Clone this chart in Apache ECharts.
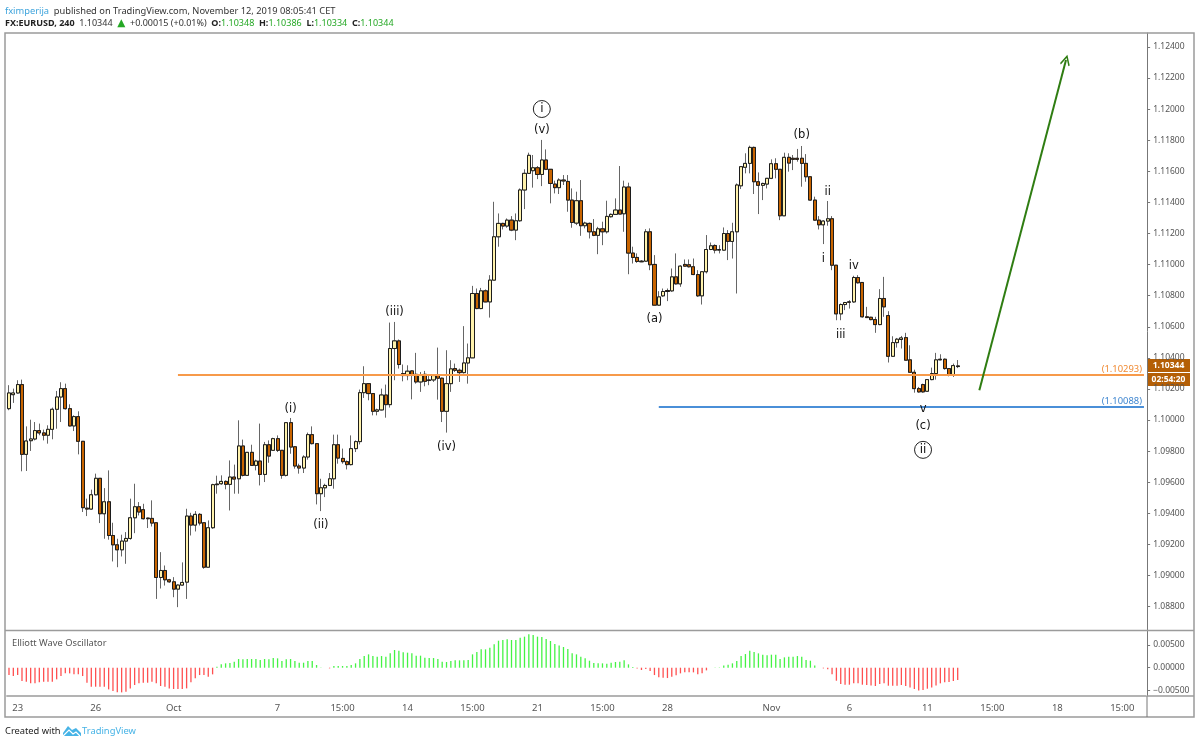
<!DOCTYPE html>
<html>
<head>
<meta charset="utf-8">
<title>FX:EURUSD, 240</title>
<script src="https://cdn.jsdelivr.net/npm/echarts@6/dist/echarts.min.js"></script>
<style>
  html, body { margin: 0; padding: 0; background: #fff; }
  #chart { width: 1200px; height: 745px; }
</style>
</head>
<body>
<div id="chart"></div>
<script>
// 4h candles
var opens = [
  1.10073,1.10163,1.10174,1.10228,1.09779,1.09867,1.09878,1.09932,1.09917,1.09902,
  1.09940,1.10069,1.10148,1.10202,1.10073,1.09962,1.10022,1.09863,1.09433,1.09427,
  1.09519,1.09625,1.09397,1.09474,1.09257,1.09197,1.09165,1.09221,1.09238,1.09371,
  1.09442,1.09423,1.09369,1.09367,1.09339,1.08987,1.09032,1.08972,1.08959,1.08912,
  1.08938,1.08957,1.09382,1.09324,1.09393,1.09339,1.09053,1.09307,1.09588,1.09590,
  1.09605,1.09586,1.09633,1.09622,1.09833,1.09644,1.09792,1.09708,1.09736,1.09650,
  1.09841,1.09805,1.09880,1.09805,1.09644,1.09983,1.09828,1.09704,1.09691,1.09762,
  1.09906,1.09848,1.09526,1.09564,1.09579,1.09622,1.09841,1.09753,1.09732,1.09713,
  1.09816,1.09861,1.10176,1.10234,1.10170,1.10056,1.10065,1.10161,1.10099,1.10460,
  1.10509,1.10299,1.10286,1.10316,1.10294,1.10245,1.10294,1.10258,1.10258,1.10286,
  1.10269,1.10056,1.10234,1.10331,1.10320,1.10305,1.10367,1.10400,1.10814,1.10717,
  1.10831,1.10760,1.10900,1.11179,1.11265,1.11248,1.11286,1.11222,1.11282,1.11480,
  1.11587,1.11604,1.11623,1.11580,1.11673,1.11613,1.11518,1.11495,1.11544,1.11535,
  1.11415,1.11267,1.11411,1.11250,1.11265,1.11211,1.11188,1.11230,1.11211,1.11308,
  1.11323,1.11351,1.11327,1.11499,1.11074,1.11046,1.11022,1.11022,1.11211,1.11001,
  1.10739,1.10799,1.10833,1.10831,1.10921,1.10876,1.11001,1.10999,1.10986,1.10936,
  1.10799,1.10954,1.11097,1.11123,1.11093,1.11093,1.11200,1.11149,1.11211,1.11507,
  1.11626,1.11651,1.11754,1.11533,1.11510,1.11518,1.11555,1.11649,1.11613,1.11314,
  1.11690,1.11684,1.11684,1.11684,1.11651,1.11565,1.11415,1.11286,1.11256,1.11280,
  1.11295,1.10996,1.10683,1.10743,1.10760,1.10760,1.10917,1.10885,1.10664,1.10661,
  1.10646,1.10614,1.10782,1.10672,1.10410,1.10498,1.10518,1.10530,1.10387,1.10307,
  1.10202,1.10228,1.10185,1.10260,1.10299,1.10391,1.10391,1.10331,1.10288,1.10348
];
// same order as opens
var closes = [
  1.10174,1.10174,1.10228,1.09779,1.09865,1.09878,1.09932,1.09917,1.09902,1.09940,
  1.10069,1.10148,1.10202,1.10073,1.09962,1.10022,1.09863,1.09436,1.09427,1.09519,
  1.09625,1.09397,1.09474,1.09257,1.09197,1.09165,1.09221,1.09238,1.09371,1.09442,
  1.09408,1.09365,1.09365,1.09337,1.08987,1.09032,1.08972,1.08959,1.08912,1.08938,
  1.08955,1.09382,1.09324,1.09393,1.09337,1.09053,1.09307,1.09584,1.09584,1.09605,
  1.09586,1.09633,1.09620,1.09833,1.09644,1.09792,1.09708,1.09736,1.09650,1.09841,
  1.09768,1.09880,1.09805,1.09644,1.09983,1.09826,1.09704,1.09691,1.09762,1.09906,
  1.09848,1.09526,1.09564,1.09579,1.09622,1.09841,1.09755,1.09732,1.09713,1.09816,
  1.09861,1.10176,1.10234,1.10170,1.10056,1.10065,1.10161,1.10099,1.10460,1.10509,
  1.10357,1.10286,1.10314,1.10288,1.10245,1.10292,1.10249,1.10254,1.10286,1.10269,
  1.10056,1.10234,1.10329,1.10320,1.10305,1.10367,1.10400,1.10814,1.10717,1.10831,
  1.10760,1.10900,1.11179,1.11265,1.11248,1.11286,1.11222,1.11282,1.11480,1.11587,
  1.11703,1.11623,1.11580,1.11673,1.11613,1.11522,1.11495,1.11544,1.11538,1.11415,
  1.11271,1.11411,1.11250,1.11267,1.11211,1.11188,1.11230,1.11211,1.11310,1.11323,
  1.11351,1.11325,1.11499,1.11074,1.11046,1.11020,1.11018,1.11211,1.10999,1.10739,
  1.10792,1.10827,1.10827,1.10921,1.10876,1.10990,1.10990,1.10986,1.10936,1.10799,
  1.10954,1.11097,1.11121,1.11093,1.11097,1.11200,1.11149,1.11211,1.11512,1.11630,
  1.11651,1.11754,1.11533,1.11510,1.11522,1.11555,1.11649,1.11613,1.11314,1.11690,
  1.11653,1.11677,1.11677,1.11651,1.11565,1.11415,1.11286,1.11256,1.11280,1.11295,
  1.10996,1.10683,1.10743,1.10756,1.10758,1.10917,1.10883,1.10664,1.10659,1.10646,
  1.10614,1.10782,1.10728,1.10410,1.10498,1.10520,1.10528,1.10385,1.10307,1.10202,
  1.10181,1.10181,1.10260,1.10299,1.10387,1.10387,1.10331,1.10288,1.10350,1.10344
];
var lows = [
  1.10063,1.10110,1.10170,1.09670,1.09672,1.09801,1.09869,1.09902,1.09869,1.09848,
  1.09876,1.09944,1.09987,1.10067,1.09959,1.09929,1.09779,1.09408,1.09382,1.09423,
  1.09515,1.09337,1.09236,1.09230,1.09090,1.09053,1.09122,1.09075,1.09230,1.09272,
  1.09386,1.09360,1.09305,1.09315,1.08849,1.08916,1.08935,1.08953,1.08860,1.08796,
  1.08935,1.08849,1.09257,1.09283,1.09322,1.09043,1.09053,1.09300,1.09526,1.09584,
  1.09554,1.09418,1.09526,1.09526,1.09637,1.09640,1.09708,1.09676,1.09579,1.09601,
  1.09725,1.09805,1.09794,1.09622,1.09637,1.09783,1.09687,1.09655,1.09659,1.09745,
  1.09843,1.09457,1.09414,1.09504,1.09575,1.09558,1.09719,1.09719,1.09682,1.09708,
  1.09794,1.09843,1.10142,1.10127,1.10030,1.10030,1.10062,1.10015,1.10080,1.10256,
  1.10331,1.10249,1.10256,1.10133,1.10234,1.10181,1.10217,1.10224,1.10245,1.10131,
  1.09987,1.09919,1.10181,1.10309,1.10245,1.10299,1.10234,1.10400,1.10713,1.10713,
  1.10758,1.10659,1.10900,1.11115,1.11226,1.11237,1.11215,1.11157,1.11276,1.11357,
  1.11587,1.11495,1.11550,1.11505,1.11608,1.11394,1.11458,1.11454,1.11512,1.11340,
  1.11237,1.11254,1.11185,1.11233,1.11168,1.11183,1.11067,1.11125,1.11200,1.11303,
  1.11319,1.11325,1.11211,1.10938,1.11007,1.11011,1.11016,1.11018,1.10964,1.10739,
  1.10734,1.10792,1.10765,1.10825,1.10872,1.10857,1.10986,1.10981,1.10932,1.10792,
  1.10743,1.10943,1.11093,1.11072,1.11072,1.11089,1.11029,1.11039,1.10814,1.11486,
  1.11587,1.11587,1.11454,1.11325,1.11415,1.11490,1.11550,1.11555,1.11286,1.11314,
  1.11598,1.11608,1.11662,1.11501,1.11533,1.11411,1.11282,1.11226,1.11132,1.11250,
  1.10964,1.10642,1.10642,1.10707,1.10717,1.10754,1.10878,1.10659,1.10657,1.10642,
  1.10561,1.10610,1.10664,1.10370,1.10406,1.10466,1.10460,1.10385,1.10307,1.10176,
  1.10176,1.10176,1.10181,1.10256,1.10260,1.10385,1.10324,1.10281,1.10277,1.10334
];
var highs = [
  1.10224,1.10202,1.10256,1.10260,1.09959,1.10002,1.09987,1.09977,1.09938,1.09966,
  1.10080,1.10187,1.10243,1.10234,1.10101,1.10030,1.10056,1.09863,1.09494,1.09552,
  1.09655,1.09625,1.09562,1.09676,1.09339,1.09236,1.09262,1.09279,1.09494,1.09590,
  1.09472,1.09461,1.09371,1.09483,1.09339,1.09150,1.09064,1.08978,1.08989,1.08942,
  1.09084,1.09429,1.09403,1.09414,1.09401,1.09339,1.09354,1.09590,1.09642,1.09644,
  1.09612,1.09740,1.09713,1.09998,1.09874,1.09792,1.09841,1.09745,1.09977,1.09859,
  1.09869,1.09886,1.09901,1.09805,1.09983,1.10013,1.09833,1.09719,1.09773,1.09919,
  1.09959,1.09848,1.09622,1.09590,1.09659,1.09906,1.09906,1.09816,1.09740,1.09901,
  1.09869,1.10196,1.10346,1.10234,1.10170,1.10073,1.10202,1.10228,1.10627,1.10631,
  1.10518,1.10357,1.10352,1.10320,1.10432,1.10309,1.10316,1.10288,1.10294,1.10466,
  1.10273,1.10449,1.10385,1.10363,1.10331,1.10604,1.10492,1.10863,1.10846,1.10850,
  1.10840,1.10932,1.11404,1.11329,1.11269,1.11297,1.11312,1.11329,1.11490,1.11613,
  1.11720,1.11705,1.11634,1.11802,1.11741,1.11613,1.11540,1.11555,1.11576,1.11576,
  1.11490,1.11469,1.11544,1.11276,1.11271,1.11293,1.11243,1.11276,1.11411,1.11329,
  1.11426,1.11634,1.11540,1.11527,1.11115,1.11072,1.11029,1.11228,1.11233,1.11061,
  1.10829,1.10846,1.10846,1.10975,1.11072,1.10996,1.11033,1.11033,1.11039,1.10964,
  1.10954,1.11190,1.11142,1.11130,1.11125,1.11239,1.11222,1.11269,1.11522,1.11630,
  1.11716,1.11765,1.11759,1.11593,1.11527,1.11555,1.11677,1.11684,1.11613,1.11720,
  1.11716,1.11705,1.11744,1.11763,1.11711,1.11565,1.11437,1.11312,1.11286,1.11409,
  1.11312,1.10996,1.10750,1.10760,1.10771,1.10928,1.10932,1.10885,1.10728,1.10664,
  1.10664,1.10842,1.10921,1.10700,1.10539,1.10528,1.10541,1.10561,1.10481,1.10324,
  1.10213,1.10234,1.10260,1.10337,1.10432,1.10423,1.10396,1.10331,1.10363,1.10386
];
// Elliott Wave Oscillator histogram
var ewo = [
  -0.00162,-0.00184,-0.00162,-0.00294,-0.00309,-0.00345,-0.00345,-0.00323,-0.00309,-0.00309,
  -0.00309,-0.00257,-0.00184,-0.00125,-0.00125,-0.00147,-0.00147,-0.00184,-0.00331,-0.00419,
  -0.00419,-0.00419,-0.00419,-0.00478,-0.00515,-0.00544,-0.00544,-0.00529,-0.00456,-0.00382,
  -0.00345,-0.00331,-0.00331,-0.00309,-0.00345,-0.00404,-0.00419,-0.00456,-0.00470,-0.00470,
  -0.00470,-0.00456,-0.00323,-0.00235,-0.00162,-0.00162,-0.00198,-0.00147,0.00022,0.00074,
  0.00096,0.00103,0.00132,0.00191,0.00184,0.00191,0.00191,0.00191,0.00169,0.00191,
  0.00184,0.00213,0.00206,0.00147,0.00184,0.00191,0.00147,0.00110,0.00110,0.00147,
  0.00147,0.00059,0.00007,0,-0.00015,0.00037,0.00037,0.00037,0.00037,0.00059,
  0.00096,0.00191,0.00257,0.00294,0.00257,0.00243,0.00257,0.00243,0.00316,0.00390,
  0.00375,0.00338,0.00331,0.00316,0.00265,0.00265,0.00221,0.00213,0.00213,0.00191,
  0.00132,0.00125,0.00147,0.00162,0.00162,0.00162,0.00169,0.00294,0.00345,0.00404,
  0.00404,0.00441,0.00515,0.00595,0.00610,0.00625,0.00610,0.00610,0.00662,0.00684,
  0.00735,0.00720,0.00684,0.00676,0.00632,0.00588,0.00522,0.00492,0.00456,0.00412,
  0.00316,0.00294,0.00243,0.00206,0.00154,0.00103,0.00096,0.00096,0.00088,0.00110,
  0.00125,0.00132,0.00162,0.00074,0.00015,-0.00015,-0.00051,-0.00029,-0.00074,-0.00162,
  -0.00213,-0.00221,-0.00228,-0.00198,-0.00169,-0.00125,-0.00103,-0.00103,-0.00103,-0.00147,
  -0.00125,-0.00059,0,0.00007,0.00007,0.00051,0.00066,0.00096,0.00147,0.00257,
  0.00301,0.00375,0.00345,0.00316,0.00287,0.00272,0.00287,0.00287,0.00191,0.00228,
  0.00243,0.00243,0.00257,0.00243,0.00169,0.00154,0.00051,0,-0.00015,-0.00037,
  -0.00147,-0.00287,-0.00360,-0.00375,-0.00375,-0.00345,-0.00345,-0.00375,-0.00382,-0.00390,
  -0.00404,-0.00360,-0.00345,-0.00397,-0.00397,-0.00397,-0.00382,-0.00404,-0.00434,-0.00470,
  -0.00500,-0.00492,-0.00463,-0.00434,-0.00390,-0.00345,-0.00323,-0.00316,-0.00294,-0.00272
];

// time axis: bar slot -> label, the axis runs on past the last candle
var barSlots = 263;
var timeSlots = [2, 20, 38, 62, 77, 92, 107, 122, 137, 152, 176, 194, 212, 227, 242, 257];
var timeLabels = ['23', '26', 'Oct', '7', '15:00', '14', '15:00', '21', '15:00', '28', 'Nov', '6', '11', '15:00', '18', '15:00'];
var priceTicks = [1.088, 1.09, 1.092, 1.094, 1.096, 1.098, 1.1, 1.102, 1.104, 1.106, 1.108, 1.11, 1.112, 1.114, 1.116, 1.118, 1.12, 1.122, 1.124];
var ewoTicks = [-0.005, 0, 0.005];

// elliott wave counts
var waveText = ['(i)', '(ii)', '(iii)', '(iv)', '(v)', '(a)', '(b)', 'i', 'ii', 'iii', 'iv', 'v', '(c)'];
var waveSlot = [65, 72, 89, 101, 123, 149, 183, 188, 189, 192, 195, 211, 211];
var wavePrice = [1.10082, 1.09335, 1.10706, 1.09837, 1.11875, 1.10661, 1.11846, 1.11048, 1.11479, 1.10558, 1.11003, 1.10082, 1.09969];
var circleText = ['i', 'ii'];
var circleSlot = [123, 211];
var circlePrice = [1.12001, 1.09808];

var supportLevels = [1.10293, 1.10088];
var lastPrice = 1.10344;
var arrowFrom = [224, 1.10191];
var arrowTo = [244, 1.12316];

var categories = [];
for (var i = 0; i < barSlots; i++) {
  var at = timeSlots.indexOf(i);
  categories.push(at >= 0 ? timeLabels[at] : '');
}
var wicks = [], bodies = [];
for (var j = 0; j < opens.length; j++) {
  wicks.push([opens[j], closes[j], lows[j], highs[j]]);
  bodies.push([opens[j], closes[j], Math.min(opens[j], closes[j]), Math.max(opens[j], closes[j])]);
}
var waves = waveText.map(function (t, n) {
  return { value: [waveSlot[n], wavePrice[n]], name: t };
});
var circles = circleText.map(function (t, n) {
  return { value: [circleSlot[n], circlePrice[n]], name: t };
});

var font = '"Noto Sans", "Open Sans", sans-serif';
var grey = '#9b9b9b';
var isLabelSlot = function (n) { return timeSlots.indexOf(n) >= 0; };

var myChart = echarts.init(document.getElementById('chart'), null, { renderer: 'canvas' });
var option = {
  animation: false,
  backgroundColor: '#fff',
  textStyle: { fontFamily: font },
  title: [{
    left: 5, top: 2, padding: 0,
    text: '{n|fximperija} {p|published on TradingView.com, November 12, 2019 08:05:41 CET}',
    textStyle: {
      fontWeight: 'normal',
      rich: {
        n: { fontFamily: font, fontSize: 9.3, fontWeight: 'normal', color: '#3ca3dc' },
        p: { fontFamily: font, fontSize: 9.3, fontWeight: 'normal', color: '#333' }
      }
    }
  }, {
    left: 5, top: 14, padding: 0,
    text: '{b|FX:EURUSD, 240} {t|1.10344} {u|\u25B2} {t|+0.00015 (+0.01%)} {b|O:}{g|1.10348} {b|H:}{g|1.10386} {b|L:}{g|1.10334} {b|C:}{g|1.10344}',
    textStyle: {
      fontWeight: 'normal',
      rich: {
        b: { fontFamily: font, fontSize: 9, fontWeight: 'bold', color: '#222' },
        t: { fontFamily: font, fontSize: 9, fontWeight: 'normal', color: '#333' },
        g: { fontFamily: font, fontSize: 9, fontWeight: 'normal', color: '#25a825' },
        u: { fontFamily: 'DejaVu Sans', fontSize: 10.5, fontWeight: 'normal', color: '#25a825' }
      }
    }
  }],
  grid: [
    { left: 6.83, top: 33, width: 1139.3, height: 597 },
    { left: 6.83, top: 631, width: 1139.3, height: 65 }
  ],
  xAxis: [{
    type: 'category', gridIndex: 0, data: categories, boundaryGap: true,
    axisLine: { show: false }, axisTick: { show: false }, axisLabel: { show: false }, splitLine: { show: false }
  }, {
    type: 'category', gridIndex: 1, data: categories, boundaryGap: true,
    axisLine: { onZero: false, lineStyle: { color: grey, width: 1.5 } },
    axisTick: { alignWithLabel: true, interval: isLabelSlot, length: 3, lineStyle: { color: '#777' } },
    axisLabel: {
      interval: function (n) { return isLabelSlot(n); },
      color: '#555', fontSize: 9.5, margin: 7, fontFamily: font
    },
    splitLine: { show: false }
  }],
  yAxis: [{
    type: 'value', gridIndex: 0, position: 'right', offset: 1,
    min: 1.08649, max: 1.1249, scale: true,
    axisLine: { show: true, lineStyle: { color: '#777', width: 1 } },
    axisTick: { show: true, length: 3, customValues: priceTicks, lineStyle: { color: '#777' } },
    axisLabel: {
      customValues: priceTicks, color: '#555', fontSize: 8.5, margin: 6, fontFamily: font,
      formatter: function (v) { return v.toFixed(5); }
    },
    splitLine: { show: false }
  }, {
    type: 'value', gridIndex: 1, position: 'right', offset: 1,
    min: -0.00624, max: 0.00809, scale: true,
    axisLine: { show: true, lineStyle: { color: '#777', width: 1 } },
    axisTick: { show: true, length: 3, customValues: ewoTicks, lineStyle: { color: '#777' } },
    axisLabel: {
      customValues: ewoTicks, color: '#555', fontSize: 8.5, margin: 6, fontFamily: font,
      formatter: function (v) { return (v < 0 ? '\u2212' : '') + Math.abs(v).toFixed(5); }
    },
    splitLine: { show: false }
  }],
  series: [{
    // wicks in grey, bodies go on top in a second pass
    type: 'candlestick', name: 'wicks', xAxisIndex: 0, yAxisIndex: 0, data: wicks,
    barWidth: 3.6, silent: true,
    itemStyle: { color: '#fff2ac', color0: '#c86400', borderColor: '#666', borderColor0: '#666', borderWidth: 1 },
    markLine: {
      silent: true, symbol: 'none', animation: false,
      lineStyle: { type: 'solid' },
      data: [
        [{ coord: [39, supportLevels[0]], lineStyle: { color: '#f79a4a', width: 2, type: 'solid' },
           label: { show: true, position: 'insideEndTop', formatter: '(1.10293)', color: '#f08a33', fontSize: 9.4, distance: [2, 1] } },
         { coord: [barSlots - 1, supportLevels[0]] }],
        [{ coord: [150, supportLevels[1]], lineStyle: { color: '#4a8fd8', width: 2, type: 'solid' },
           label: { show: true, position: 'insideEndTop', formatter: '(1.10088)', color: '#3f86d0', fontSize: 9.4, distance: [2, 1] } },
         { coord: [barSlots - 1, supportLevels[1]] }]
      ]
    }
  }, {
    type: 'candlestick', name: 'bodies', xAxisIndex: 0, yAxisIndex: 0, data: bodies,
    barWidth: 3.6, silent: true, z: 3,
    itemStyle: { color: '#fff2ac', color0: '#c86400', borderColor: '#1c1c1c', borderColor0: '#1c1c1c', borderWidth: 1 }
  }, {
    type: 'line', name: 'target', xAxisIndex: 0, yAxisIndex: 0, data: [],
    markLine: {
      silent: true, animation: false,
      symbol: ['none', 'path://M0 0 L9 12 L7 13.5 L0 4 L-7 13.5 L-9 12 Z'], symbolSize: [10, 11],
      lineStyle: { color: '#2f7d12', width: 2, type: 'solid' },
      label: { show: false },
      data: [[{ coord: arrowFrom }, { coord: arrowTo }]]
    }
  }, {
    type: 'scatter', name: 'waves', xAxisIndex: 0, yAxisIndex: 0, data: waves,
    symbolSize: 1, itemStyle: { color: 'transparent', opacity: 1 }, silent: true, z: 5,
    label: {
      show: true, position: 'inside', formatter: '{b}', offset: [0, 1.5],
      color: '#111', fontSize: 11.5, fontFamily: '"DejaVu Sans", sans-serif'
    }
  }, {
    type: 'scatter', name: 'degree', xAxisIndex: 0, yAxisIndex: 0, data: circles,
    symbol: 'circle', symbolSize: 17, silent: true, z: 5,
    itemStyle: { color: '#fff', borderColor: '#222', borderWidth: 1, opacity: 1 },
    label: {
      show: true, position: 'inside', formatter: '{b}',
      color: '#111', fontSize: 12, fontFamily: '"DejaVu Sans", sans-serif'
    }
  }, {
    type: 'bar', name: 'Elliott Wave Oscillator', xAxisIndex: 1, yAxisIndex: 1, data: ewo,
    barWidth: 1.3, silent: true,
    itemStyle: {
      color: function (p) { return p.value >= 0 ? '#44f344' : '#ff5050'; }
    }
  }],
  graphic: [
    // chart frame
    { type: 'rect', z: 1, silent: true, shape: { x: 5, y: 33, width: 1189, height: 684 },
      style: { fill: 'none', stroke: grey, lineWidth: 1.5 } },
    { type: 'line', z: 1, silent: true, shape: { x1: 5, y1: 630.5, x2: 1194, y2: 630.5 },
      style: { stroke: grey, lineWidth: 1.5 } },
    { type: 'line', z: 1, silent: true, shape: { x1: 1147, y1: 696, x2: 1147, y2: 717 },
      style: { stroke: '#777', lineWidth: 1 } },
    { type: 'line', z: 1, silent: true, shape: { x1: 1147, y1: 696, x2: 1194, y2: 696 },
      style: { stroke: grey, lineWidth: 1.5 } },
    // last price tags
    { type: 'group', z: 20, silent: true, x: 1147, y: 359, children: [
      { type: 'rect', shape: { x: 0, y: 0, width: 43, height: 13 }, style: { fill: '#b45f06' } },
      { type: 'text', style: { x: 21.5, y: 6.5, text: lastPrice.toFixed(5), fill: '#fff', align: 'center', verticalAlign: 'middle', font: 'bold 8.5px ' + font } },
      { type: 'rect', shape: { x: 0, y: 14, width: 43, height: 13 }, style: { fill: '#b45f06' } },
      { type: 'text', style: { x: 21.5, y: 20.5, text: '02:54:20', fill: '#fff', align: 'center', verticalAlign: 'middle', font: 'bold 8.5px ' + font } }
    ] },
    { type: 'text', z: 20, silent: true, style: { x: 12, y: 639, text: 'Elliott Wave Oscillator', fill: '#555', font: '9.3px ' + font } },
    // footer
    { type: 'text', z: 20, silent: true, style: { x: 5, y: 727, text: 'Created with', fill: '#222', font: '9.3px ' + font } },
    { type: 'polygon', z: 20, silent: true, shape: { points: [[63, 736], [63, 733], [68, 726], [72, 730], [76, 728], [81, 733], [81, 736]] },
      style: { fill: '#46b3e6' } },
    { type: 'polyline', z: 21, silent: true, shape: { points: [[63, 736], [69, 730], [73, 734], [76, 732], [80, 736]] },
      style: { stroke: '#fff', fill: 'none', lineWidth: 1.2 } },
    { type: 'text', z: 20, silent: true, style: { x: 82, y: 727, text: 'TradingView', fill: '#46b3e6', font: '9.4px ' + font } }
  ]
};
myChart.setOption(option, true);
</script>
</body>
</html>
